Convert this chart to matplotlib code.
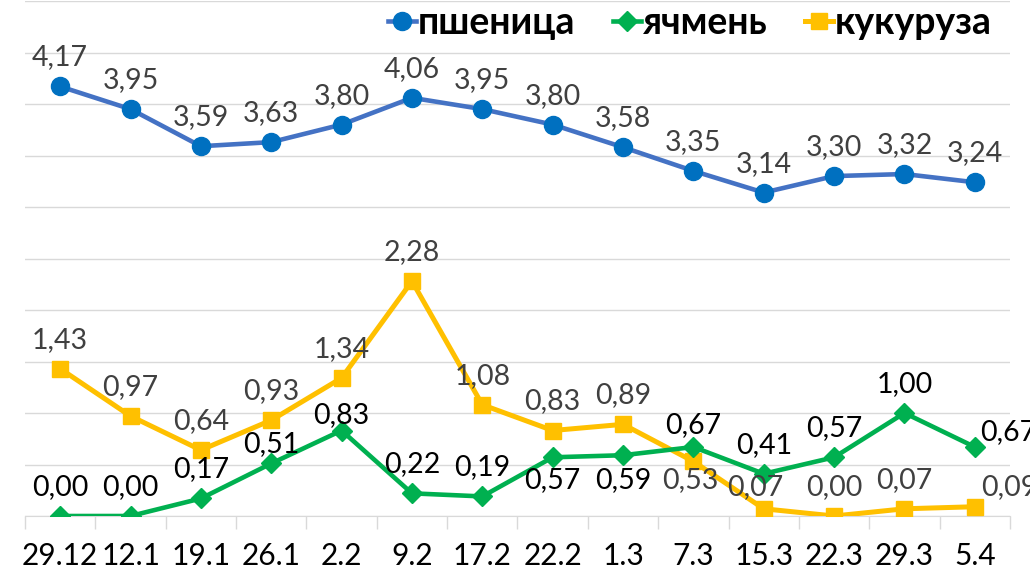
import matplotlib.pyplot as plt
from matplotlib.ticker import FixedLocator, MultipleLocator

dates = ["29.12", "12.1", "19.1", "26.1", "2.2", "9.2", "17.2", "22.2",
         "1.3", "7.3", "15.3", "22.3", "29.3", "5.4"]
wheat = [4.17, 3.95, 3.59, 3.63, 3.80, 4.06, 3.95, 3.80, 3.58, 3.35, 3.14, 3.30, 3.32, 3.24]
barley = [0.00, 0.00, 0.17, 0.51, 0.83, 0.22, 0.19, 0.57, 0.59, 0.67, 0.41, 0.57, 1.00, 0.67]
corn = [1.43, 0.97, 0.64, 0.93, 1.34, 2.28, 1.08, 0.83, 0.89, 0.53, 0.07, 0.00, 0.07, 0.09]

plt.rcParams['font.family'] = ['Lato', 'DejaVu Sans']

fig = plt.figure(figsize=(10.30, 5.74), dpi=100)
ax = fig.add_axes([25 / 1030, 1 - 516 / 574, 985 / 1030, 515 / 574])

x = list(range(len(dates)))

ax.plot(x, wheat, color="#4472C4", lw=3.3, marker="o", ms=13,
        mfc="#0070C0", mec="#0070C0", label="пшеница", zorder=3)
ax.plot(x, barley, color="#00B050", lw=3.3, marker="D", ms=10.5,
        mfc="#00B050", mec="#00B050", label="ячмень", zorder=4)
ax.plot(x, corn, color="#FFC000", lw=3.6, marker="s", ms=12,
        mfc="#FFC000", mec="#FFC000", label="кукуруза", zorder=3)

# label offsets in pixels (dx, dy of baseline from point), default above
def put_labels(vals, color, special):
    for i, v in enumerate(vals):
        dx, dy, ha = special.get(i, (0, 21, "center"))
        ax.annotate(f"{v:.2f}".replace(".", ","), (i, v),
                    xytext=(dx * 0.72, dy * 0.72), textcoords="offset points",
                    ha=ha, va="baseline", fontsize=20.5, color=color, zorder=5)

put_labels(wheat, "#404040", {})
put_labels(barley, "#000000", {3: (0, 11, "center"), 4: (0, 7, "center"),
                               7: (0, -31, "center"), 8: (0, -33, "center"),
                               9: (0, 14, "center"), 13: (5, 7, "left")})
put_labels(corn, "#404040", {9: (-3, -27, "center"), 10: (-8, 14, "center"),
                             13: (6, 12, "left")})

ax.set_xlim(-0.5, len(dates) - 0.5)
ax.set_ylim(0, 5)
ax.yaxis.set_major_locator(MultipleLocator(0.5))
ax.grid(axis="y", color="#D9D9D9", lw=1)
ax.set_axisbelow(True)
ax.tick_params(axis="y", left=False, labelleft=False)

ax.set_xticks(x)
ax.set_xticklabels(dates, fontsize=21.5)
ax.tick_params(axis="x", which="major", length=0, pad=19)
ax.xaxis.set_minor_locator(FixedLocator([i - 0.5 for i in range(len(dates) + 1)]))
ax.tick_params(axis="x", which="minor", length=9, color="#D9D9D9", width=1)

for s in ["top", "right", "left"]:
    ax.spines[s].set_visible(False)
ax.spines["bottom"].set_color("#D9D9D9")

leg = ax.legend(loc="upper right", bbox_to_anchor=(1007 / 1030, 1 + 9 / 574),
                bbox_transform=fig.transFigure, ncol=3, frameon=False,
                handlelength=0.75, handletextpad=0.05, columnspacing=1.0,
                borderaxespad=0, prop={"size": 27, "weight": "bold"})

fig.savefig("out.png", dpi=100)
